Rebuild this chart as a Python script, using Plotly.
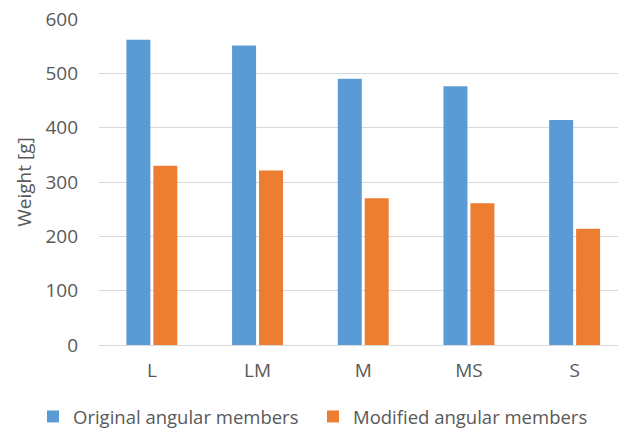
import plotly.graph_objects as go

categories = ["L", "LM", "M", "MS", "S"]
original = [562, 551, 490, 476, 414]
modified = [330, 321, 270, 261, 214]
series_names = ["Original angular members", "Modified angular members"]
y_ticks = [0, 100, 200, 300, 400, 500, 600]

font_family = "Open Sans, Noto Sans, sans-serif"
text_color = "#595959"
fs = 19

fig = go.Figure()
fig.add_trace(go.Bar(x=categories, y=original, name=series_names[0], legend="legend",
                     marker=dict(color="#5B9BD5", line=dict(width=0))))
fig.add_trace(go.Bar(x=categories, y=modified, name=series_names[1], legend="legend2",
                     marker=dict(color="#ED7D31", line=dict(width=0))))

leg_common = dict(orientation="h", xref="container", yref="container",
                  xanchor="left", y=0.031, yanchor="middle",
                  font=dict(size=18.5, color=text_color), itemwidth=30,
                  bgcolor="rgba(0,0,0,0)")

# page body has an 8px margin, so the figure is sized to the visible area
fig.update_layout(
    width=618, height=422,
    margin=dict(l=90.7, r=0, t=10.5, b=85.3, autoexpand=False),
    plot_bgcolor="white", paper_bgcolor="white",
    barmode="group", bargap=0.49, bargroupgap=0.11,
    font=dict(family=font_family, size=fs, color=text_color),
    showlegend=True,
    legend=dict(x=25 / 618, **leg_common),
    legend2=dict(x=305 / 618, **leg_common),
)
fig.update_xaxes(
    range=[-0.5, 4.486], showgrid=False, zeroline=False, showline=False,
    ticks="", ticklabelstandoff=12,
    tickfont=dict(size=fs, color=text_color),
)
fig.update_yaxes(
    range=[0, 600], tickvals=y_ticks, showgrid=True, gridcolor="#D9D9D9", gridwidth=1.3,
    zeroline=True, zerolinecolor="#D9D9D9", zerolinewidth=1.3, showline=False,
    ticks="", ticklabelstandoff=20, ticklabeloverflow="allow",
    tickfont=dict(size=fs, color=text_color),
    title=dict(text="Weight [g]", font=dict(size=fs, color=text_color), standoff=8),
)

fig.write_html("out.html")
